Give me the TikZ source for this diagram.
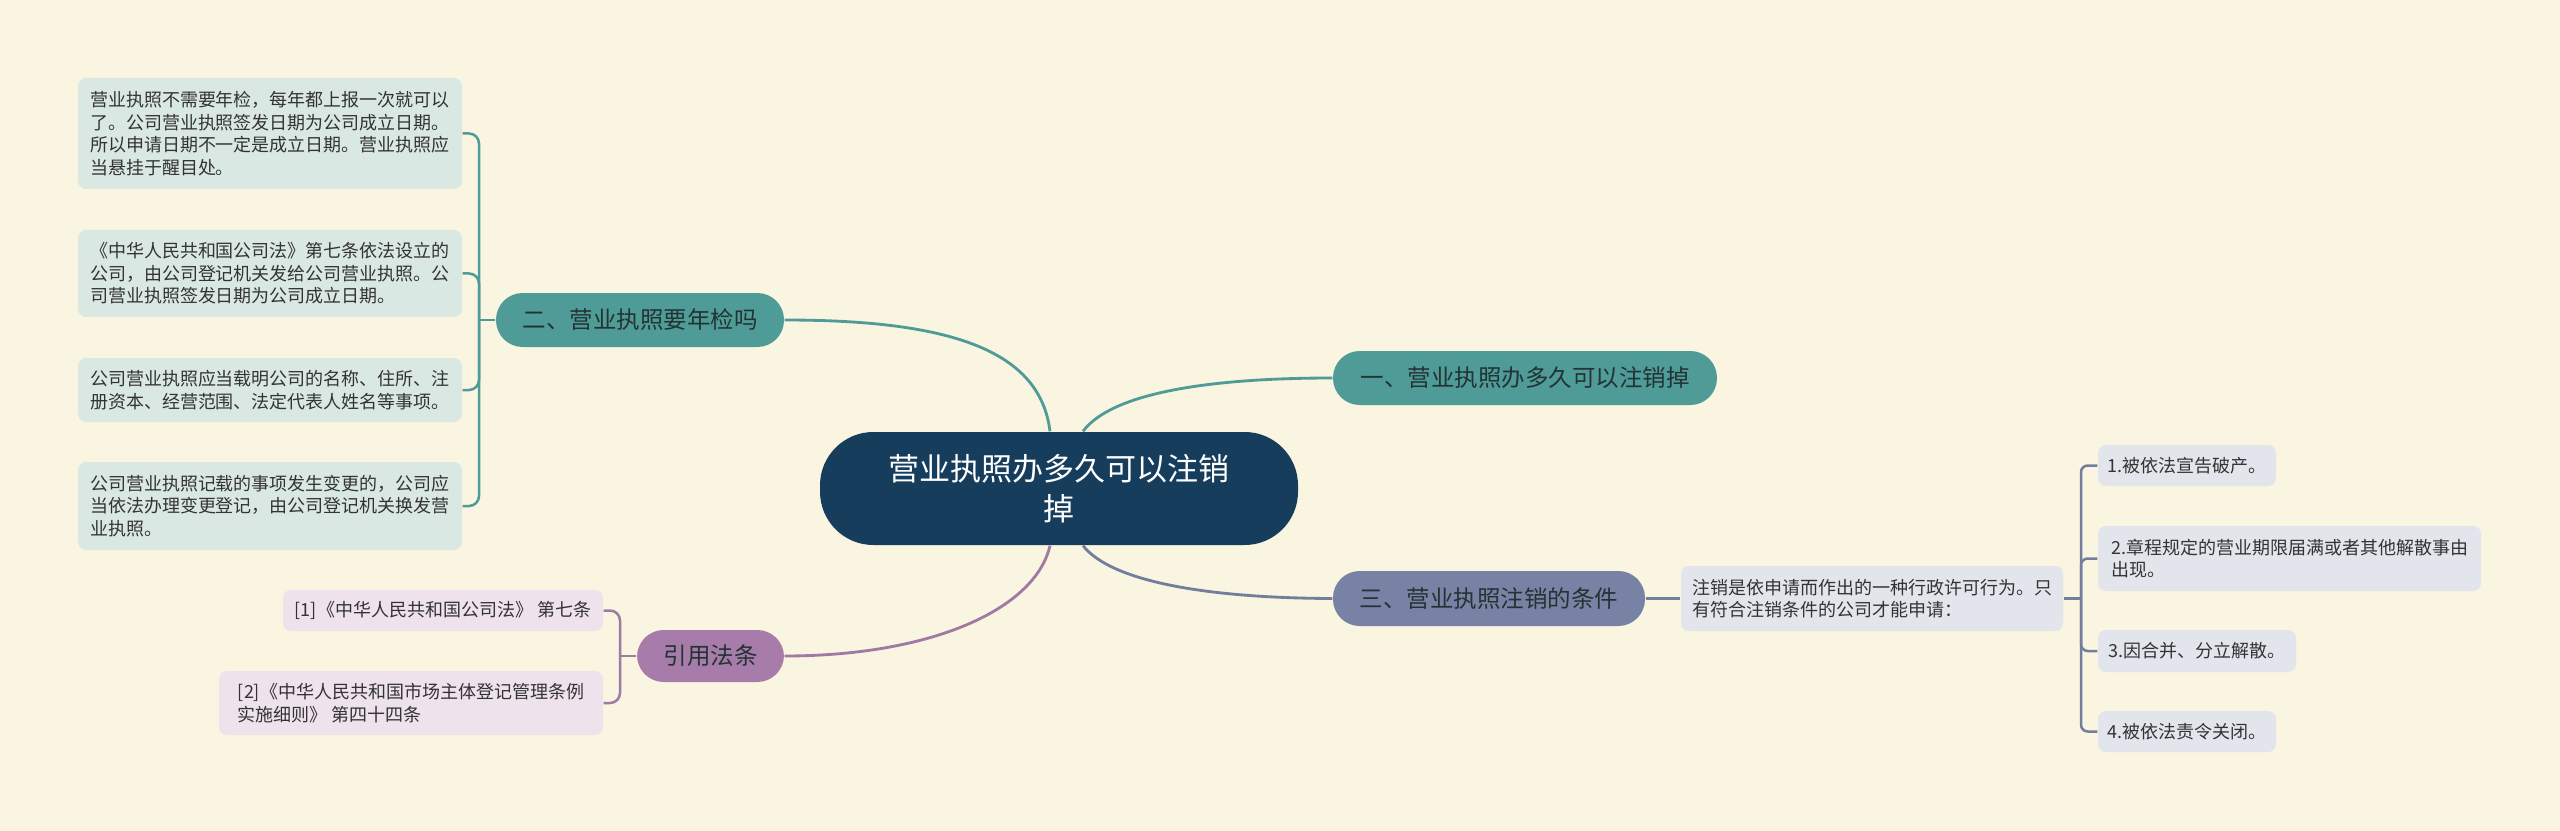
\documentclass[tikz,border=0pt]{standalone}
\usepackage{fontspec}
\setmainfont{Noto Sans CJK SC}
\definecolor{bgc}{HTML}{FAF5E0}
\definecolor{rootc}{HTML}{173D5C}
\definecolor{tealc}{HTML}{4F9B98}
\definecolor{slatec}{HTML}{7882A5}
\definecolor{purpc}{HTML}{A77BAA}
\definecolor{tealleaf}{HTML}{DAE8E4}
\definecolor{slateleaf}{HTML}{E2E5EC}
\definecolor{purpleaf}{HTML}{EEE3EC}
\definecolor{tealline}{HTML}{4F9B98}
\definecolor{slateline}{HTML}{737E9E}
\definecolor{purpline}{HTML}{A07AA5}
\definecolor{txt}{HTML}{333333}
\definecolor{toptxt}{HTML}{233333}
\tikzset{
  root/.style={fill=rootc, rounded corners=16pt, align=center, text=white, inner sep=0pt,
    font=\fontsize{9.3pt}{12pt}\selectfont},
  topic/.style={rounded corners=8pt, align=center, text=toptxt, inner sep=0pt,
    font=\fontsize{7.05pt}{8.5pt}\selectfont},
  leaf/.style={rounded corners=2.4pt, align=left, text=txt, inner sep=0pt,
    font=\fontsize{5.4pt}{6.75pt}\selectfont},
  mainline/.style={line width=0.85pt},
  subline/.style={line width=0.75pt},
}
\begin{document}
\begin{tikzpicture}[x=0.3pt,y=-0.3pt]
\fill[bgc] (0,0) rectangle (2560,831);
\useasboundingbox (0,0) rectangle (2560,831);

% central
\node[root, minimum width=143.4pt, minimum height=33.9pt] (c) at (1059,488.5) {营业执照办多久可以注销\\掉};

% topics
\node[topic, fill=tealc, minimum width=86.4pt, minimum height=16.2pt] (n2) at (640,320) {二、营业执照要年检吗};
\node[topic, fill=tealc, minimum width=115.2pt, minimum height=16.2pt] (n1) at (1525,378) {一、营业执照办多久可以注销掉};
\node[topic, fill=slatec, minimum width=93.6pt, minimum height=16.5pt] (n3) at (1489,598.5) {三、营业执照注销的条件};
\node[topic, fill=purpc, minimum width=44.1pt, minimum height=15.6pt] (n4) at (710.5,656) {引用法条};

% teal leaves
\node[leaf, fill=tealleaf, minimum width=115.2pt, minimum height=33.3pt] (l1) at (270,133.5) {营业执照不需要年检，每年都上报一次就可以\\了。公司营业执照签发日期为公司成立日期。\\所以申请日期不一定是成立日期。营业执照应\\当悬挂于醒目处。};
\node[leaf, fill=tealleaf, minimum width=115.2pt, minimum height=26.1pt] (l2) at (270,273.5) {《中华人民共和国公司法》第七条依法设立的\\公司，由公司登记机关发给公司营业执照。公\\司营业执照签发日期为公司成立日期。};
\node[leaf, fill=tealleaf, minimum width=115.2pt, minimum height=19.2pt] (l3) at (270,390) {公司营业执照应当载明公司的名称、住所、注\\册资本、经营范围、法定代表人姓名等事项。};
\node[leaf, fill=tealleaf, minimum width=115.2pt, minimum height=26.4pt] (l4) at (270,506) {公司营业执照记载的事项发生变更的，公司应\\当依法办理变更登记，由公司登记机关换发营\\业执照。};

% slate leaves
\node[leaf, fill=slateleaf, minimum width=114.6pt, minimum height=19.5pt] (r0) at (1872,598.5) {注销是依申请而作出的一种行政许可行为。只\\有符合注销条件的公司才能申请：};
\node[leaf, fill=slateleaf, minimum width=53.4pt, minimum height=12.3pt] (r1) at (2187,465.5) {1.被依法宣告破产。};
\node[leaf, fill=slateleaf, minimum width=114.9pt, minimum height=19.5pt] (r2) at (2289.5,558.5) {2.章程规定的营业期限届满或者其他解散事由\\出现。};
\node[leaf, fill=slateleaf, minimum width=59.4pt, minimum height=12.6pt] (r3) at (2197,651) {3.因合并、分立解散。};
\node[leaf, fill=slateleaf, minimum width=53.4pt, minimum height=12.3pt] (r4) at (2187,731.5) {4.被依法责令关闭。};

% purple leaves
\node[leaf, fill=purpleaf, minimum width=96pt, minimum height=12.3pt] (p1) at (443,610.5) {[1]《中华人民共和国公司法》 第七条};
\node[leaf, fill=purpleaf, minimum width=115.2pt, minimum height=19.2pt] (p2) at (411,703) {[2]《中华人民共和国市场主体登记管理条例\\实施细则》 第四十四条};

% main connectors
\draw[mainline, tealline] (n2.east) .. controls (950,320) and (1040,350) .. ([xshift=-2.7pt]c.north);
\draw[mainline, tealline] ([xshift=7.2pt]c.north) .. controls (1110,395) and (1200,378) .. (n1.west);
\draw[mainline, purpline] ([xshift=-2.7pt]c.south) .. controls (1035,610) and (930,656) .. (n4.east);
\draw[mainline, slateline] ([xshift=7.2pt]c.south) .. controls (1110,580) and (1200,598) .. (n3.west);
\draw[subline, slateline] (n3.east) -- (r0.west);

% teal bracket
\coordinate (jt) at (479,320);
\draw[subline, tealline] (n2.west) -- (jt);
\foreach \k in {l1,l2,l3,l4}{
  \draw[subline, tealline, rounded corners=3pt] (jt) |- (\k.east);
}
% slate bracket
\coordinate (js) at (2081,598.5);
\draw[subline, slateline] (r0.east) -- (js);
\foreach \k in {r1,r2,r3,r4}{
  \draw[subline, slateline, rounded corners=2pt] (js) |- (\k.west);
}
% purple bracket
\coordinate (jp) at (620,656);
\draw[subline, purpline] (n4.west) -- (jp);
\foreach \k in {p1,p2}{
  \draw[subline, purpline, rounded corners=3pt] (jp) |- (\k.east);
}
\end{tikzpicture}
\end{document}
